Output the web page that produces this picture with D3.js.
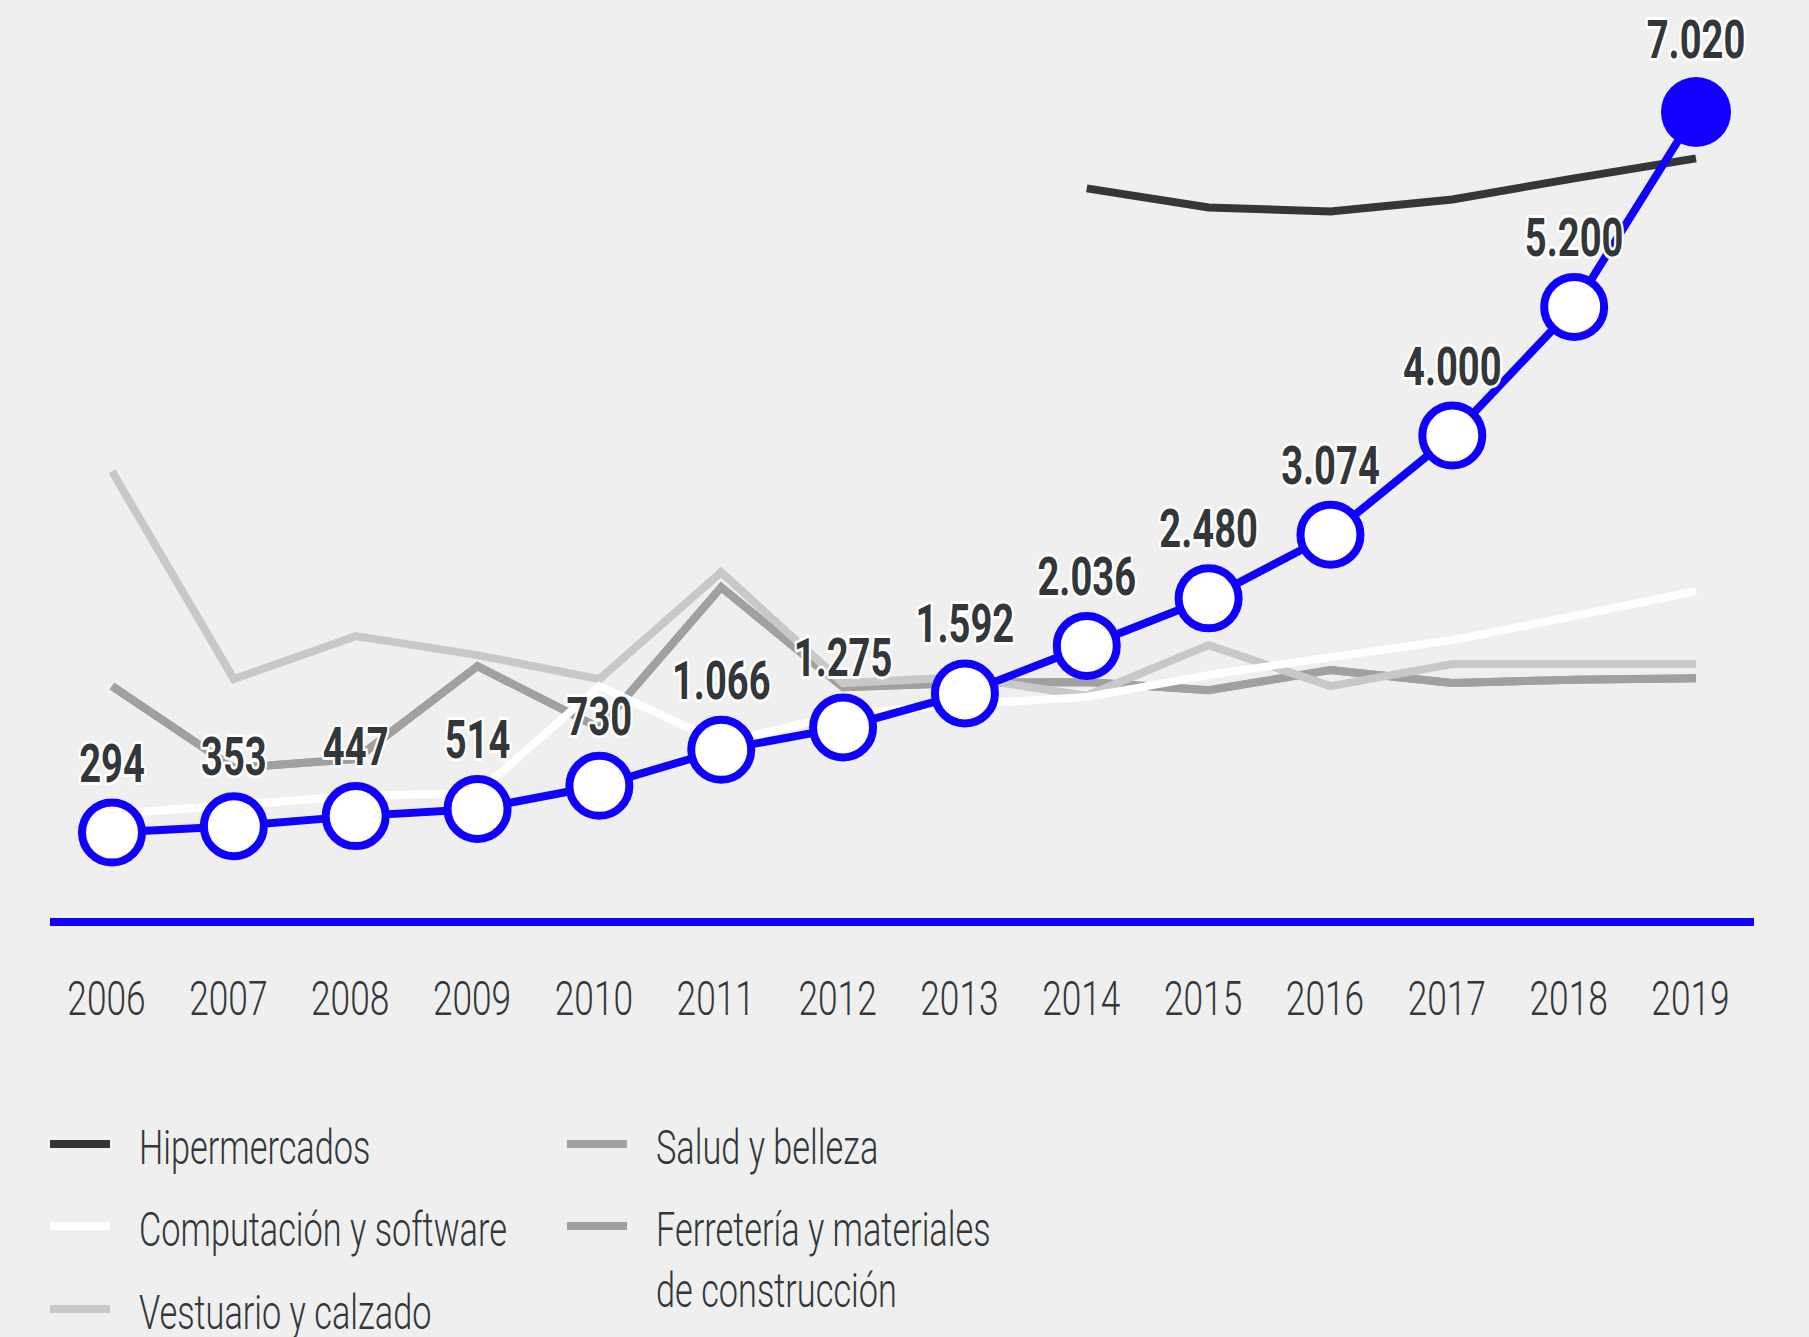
<!DOCTYPE html>
<html>
<head>
<meta charset="utf-8">
<script src="https://cdn.jsdelivr.net/npm/d3@7"></script>
<style>
  html, body { margin: 0; padding: 0; background: #efefef; }
  svg { display: block; }
  text { font-family: Roboto, "Noto Sans", sans-serif; }
</style>
</head>
<body>
<svg id="chart"></svg>
<script>
// years on the x axis
var years = [2006, 2007, 2008, 2009, 2010, 2011, 2012, 2013, 2014, 2015, 2016, 2017, 2018, 2019];

// highlighted series (blue, with labels)
var ecommerce = [294, 353, 447, 514, 730, 1066, 1275, 1592, 2036, 2480, 3074, 4000, 5200, 7020];

// comparison series (null = no data)
var hipermercados = [null, null, null, null, null, null, null, null, 6307, 6129, 6092, 6204, 6400, 6587];
var computacion   = [466, 550, 634, 662, 1660, 1130, 1400, 1490, 1560, 1763, 1931, 2090, 2315, 2547];
var vestuario     = [3666, 1726, 2127, 1950, 1726, 2724, 1689, 1745, 1570, 2043, 1661, 1866, 1866, 1866];
var salud         = [1661, 896, 980, 1847, 1269, 2584, 1651, 1690, 1700, 1623, 1810, 1689, 1720, 1735];
var ferreteria    = [1661, 896, 980, 1847, 1269, 2584, 1651, 1690, 1700, 1623, 1810, 1689, 1720, 1735];

var seriesNames  = ["Hipermercados", "Computación y software", "Vestuario y calzado", "Salud y belleza", "Ferretería y materiales\nde construcción"];
var seriesColors = ["#33373a", "#ffffff", "#c8c8c8", "#a0a0a0", "#a0a0a0"];

var width = 1809, height = 1337,
    blue = "#1000ff", ink = "#33373a",
    squeeze = 0.72; // the original uses a condensed face

var svg = d3.select("#chart").attr("width", width).attr("height", height);
svg.append("rect").attr("width", width).attr("height", height).attr("fill", "#efefef");

var x = d3.scalePoint().domain(years).range([112, 1696]);
var y = d3.scaleLinear().domain([0, 7020]).range([864, 112]);

var fmt = d3.formatLocale({decimal: ",", thousands: ".", grouping: [3], currency: ["$", ""]}).format(",d");

var line = d3.line()
    .defined(function(d) { return d.v != null; })
    .x(function(d) { return x(d.year); })
    .y(function(d) { return y(d.v); });

function rows(values) {
  return years.map(function(yr, i) { return {year: yr, v: values[i]}; });
}

// grey comparison lines, back to front
var drawOrder = [
  {values: ferreteria, color: seriesColors[4]},
  {values: salud, color: seriesColors[3]},
  {values: vestuario, color: seriesColors[2]},
  {values: computacion, color: seriesColors[1]},
  {values: hipermercados, color: seriesColors[0]}
];

svg.append("g").selectAll("path")
  .data(drawOrder)
  .enter().append("path")
    .attr("d", function(d) { return line(rows(d.values)); })
    .attr("fill", "none")
    .attr("stroke", function(d) { return d.color; })
    .attr("stroke-width", 8);

// baseline
svg.append("line")
  .attr("x1", 50).attr("x2", 1754)
  .attr("y1", 922).attr("y2", 922)
  .attr("stroke", blue).attr("stroke-width", 8);

// x axis labels
var xAxis = d3.axisBottom(x).tickSize(0).tickPadding(0);
var gx = svg.append("g").attr("transform", "translate(-6,1015)").call(xAxis);
gx.select(".domain").remove();
gx.selectAll("text")
  .attr("dy", 0)
  .attr("y", 0)
  .attr("fill", ink)
  .attr("font-size", 49)
  .attr("font-weight", 300)
  .attr("font-family", "Roboto, sans-serif")
  .attr("transform", "scale(" + squeeze + ",1)");

// blue series
var ecoRows = rows(ecommerce);
var last = ecoRows.length - 1;
svg.append("path")
  .attr("d", line(ecoRows))
  .attr("fill", "none")
  .attr("stroke", blue)
  .attr("stroke-width", 8);

svg.append("g").selectAll("circle")
  .data(ecoRows)
  .enter().append("circle")
    .attr("cx", function(d) { return x(d.year); })
    .attr("cy", function(d) { return y(d.v); })
    .attr("r", function(d, i) { return i === last ? 35 : 30; })
    .attr("fill", function(d, i) { return i === last ? blue : "#ffffff"; })
    .attr("stroke", blue)
    .attr("stroke-width", function(d, i) { return i === last ? 0 : 8; });

svg.append("g").selectAll("text")
  .data(ecoRows)
  .enter().append("text")
    .attr("transform", function(d, i) {
      return "translate(" + x(d.year) + "," + (y(d.v) - (i === last ? 54 : 51)) + ") scale(" + squeeze + ",1)";
    })
    .attr("text-anchor", "middle")
    .attr("font-size", 53)
    .attr("font-weight", "bold")
    .attr("fill", ink)
    .attr("stroke", "#ffffff")
    .attr("stroke-width", 6)
    .attr("stroke-linejoin", "round")
    .attr("paint-order", "stroke")
    .text(function(d) { return fmt(d.v); });

// legend, two columns
var legendPos = [
  {x: 50, y: 1144}, {x: 50, y: 1226}, {x: 50, y: 1309},
  {x: 567, y: 1144}, {x: 567, y: 1226}
];

var legend = svg.append("g").selectAll("g")
  .data(seriesNames)
  .enter().append("g")
    .attr("transform", function(d, i) { return "translate(" + legendPos[i].x + "," + legendPos[i].y + ")"; });

legend.append("line")
  .attr("x1", 0).attr("x2", 60)
  .attr("stroke", function(d, i) { return seriesColors[i]; })
  .attr("stroke-width", 8);

legend.append("text")
  .attr("transform", "translate(89,20) scale(0.7,1)")
  .attr("fill", ink)
  .attr("font-size", 49)
  .attr("font-weight", 300)
  .selectAll("tspan")
  .data(function(d) { return d.split("\n"); })
  .enter().append("tspan")
    .attr("x", 0)
    .attr("dy", function(d, i) { return i ? 61 : 0; })
    .text(function(d) { return d; });
</script>
</body>
</html>
